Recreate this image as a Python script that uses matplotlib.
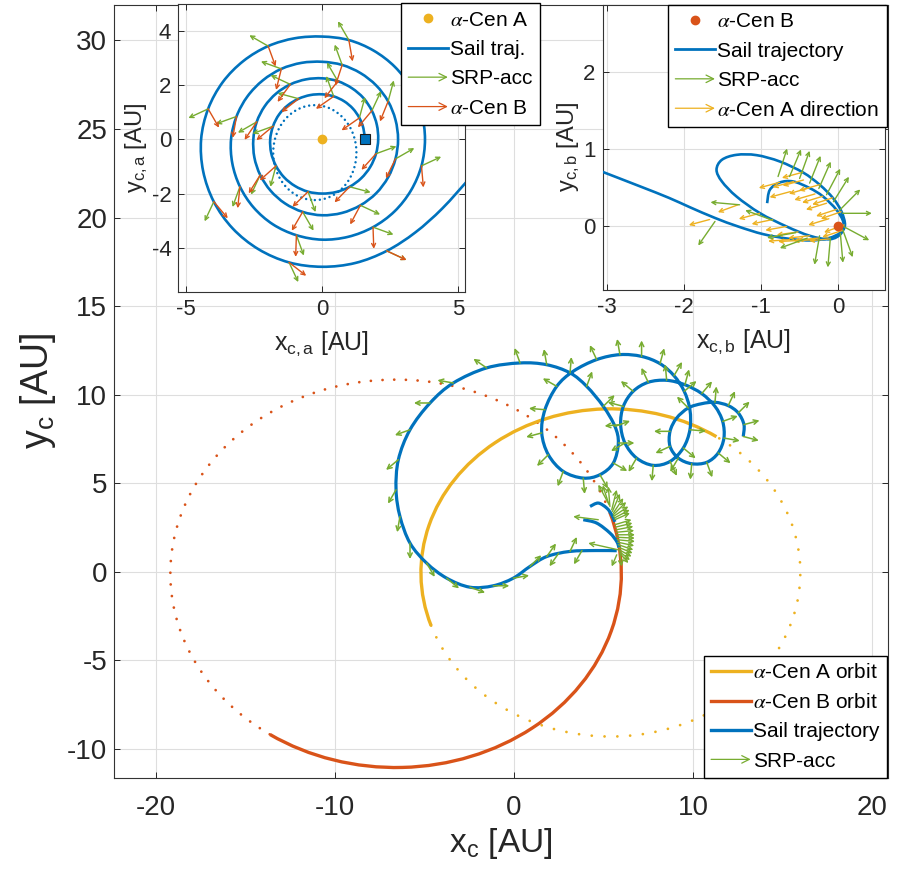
import numpy as np
import matplotlib
matplotlib.use('Agg')
import matplotlib.pyplot as plt
from matplotlib.patches import Arc, Ellipse, FancyArrowPatch, PathPatch
from matplotlib.path import Path
from matplotlib.lines import Line2D
from matplotlib.legend_handler import HandlerBase

plt.rcParams['font.family'] = ['Liberation Sans', 'DejaVu Sans']
plt.rcParams['mathtext.fontset'] = 'stix'
plt.rcParams['axes.unicode_minus'] = False

C_BLUE = '#0072BD'
C_RED = '#D95319'
C_ORANGE = '#EDB120'
C_GREEN = '#77AC30'
C_TXT = '#262626'

# ---------------- main plot data (barycentric frame, AU) ----------------
# star orbits: centre, semi axes, start/end of the flown part (deg)
orbA_c, orbA_a, orbA_b, orbA_t = (5.4, -0.05), 10.6, 9.25, (52.4, 196.6)
orbB_c, orbB_a, orbB_b, orbB_t = (-6.6, -0.1), 12.6, 10.95, (-127.7, 16.1)

sail_x = [12.81, 12.85, 12.53, 11.97, 11.23, 10.49, 9.74, 9.09, 8.72, 8.72, 9.18, 9.93,
          10.77, 11.41, 11.73, 11.66, 11.23, 10.49, 9.55, 8.53, 7.50, 6.66, 6.11, 5.96,
          6.20, 6.85, 7.78, 8.72, 9.46, 9.83, 9.83, 9.51, 8.94, 8.16, 7.13, 5.92, 4.62,
          3.31, 2.39, 1.73, 1.55, 1.92, 2.75, 3.87, 4.80, 5.55, 5.83, 5.64, 4.99, 4.06,
          3.13, 1.83, 0.34, -1.53, -3.39, -4.69, -5.81, -6.46, -6.59, -6.37, -5.81, -4.88,
          -3.76, -2.46, -1.16, -0.04, 0.89, 1.83, 3.13, 4.62, 5.74]
sail_y = [7.64, 8.31, 8.97, 9.38, 9.57, 9.49, 9.25, 8.68, 7.93, 7.08, 6.42, 6.10,
          6.18, 6.71, 7.55, 8.49, 9.34, 10.06, 10.56, 10.81, 10.70, 10.19, 9.34, 8.31,
          7.27, 6.42, 6.01, 6.23, 6.99, 8.02, 9.15, 10.19, 11.07, 11.75, 12.16, 12.26, 11.98,
          11.32, 10.47, 9.15, 7.84, 6.61, 5.67, 5.29, 5.48, 6.14, 7.27, 8.21, 9.34, 10.47,
          11.23, 11.69, 11.79, 11.51, 10.66, 9.53, 8.02, 6.33, 4.63, 3.12, 1.62, 0.49,
          -0.36, -0.87, -0.79, -0.36, 0.30, 0.86, 1.15, 1.20, 1.19]
# short arcs around alpha-Cen B at the end of the transfer
arcB1_x = [4.25, 4.71, 5.18, 5.46, 5.64]
arcB1_y = [3.69, 3.88, 3.60, 3.22, 2.82]
arcB2_x = [3.87, 4.62, 5.36, 5.74, 5.87]
arcB2_y = [2.94, 2.75, 2.19, 1.71, 1.36]

# SRP acceleration arrows along the trajectory (base, direction in deg)
srp_x = [12.81, 12.85, 12.53, 11.97, 11.23, 9.74, 8.72, 8.72, 9.18, 9.93, 10.77, 11.41, 11.73, 11.66,
         10.49, 9.55, 8.53, 7.50, 6.66, 6.11, 5.96, 6.20, 6.85, 7.78, 8.72, 9.46, 9.83,
         9.51, 8.94, 8.16, 7.13, 5.92, 4.62,
         2.39, 1.73, 1.55, 1.92, 2.75, 3.87, 4.80, 5.55, 5.83, 5.64, 4.99, 4.06, 3.13, 1.83,
         0.34, -1.53, -3.39, -4.69, -5.81, -6.46, -6.59, -6.37, -5.81, -4.88, -3.76, -2.46,
         -1.16, -0.04, 0.89, 1.83, 3.13, 2.50, 3.80]
srp_y = [7.64, 8.31, 8.97, 9.38, 9.57, 9.25, 7.93, 7.08, 6.42, 6.10, 6.18, 6.71, 7.55, 8.49,
         10.06, 10.56, 10.81, 10.70, 10.19, 9.34, 8.31, 7.27, 6.42, 6.01, 6.23, 6.99, 8.02,
         10.19, 11.07, 11.75, 12.16, 12.26, 11.98,
         10.47, 9.15, 7.84, 6.61, 5.67, 5.29, 5.48, 6.14, 7.27, 8.21, 9.34, 10.47, 11.23, 11.69,
         11.79, 11.51, 10.66, 9.53, 8.02, 6.33, 4.63, 3.12, 1.62, 0.49, -0.36, -0.87,
         -0.79, -0.36, 0.30, 0.86, 1.15, 1.05, 1.20]
srp_ang = [-15, 15, 45, 65, 85, 135, 180, 205, 240, 265, 290, 320, 350, 20,
           50, 75, 95, 115, 140, 165, 185, 210, 240, 265, 295, 320, 355,
           40, 60, 75, 90, 100, 115,
           150, 175, 195, 225, 250, 275, 300, 330, 0, 20, 45, 70, 85, 100,
           110, 145, 170, 180, 200, 220, 240, 260, 270, 300, 320, 340,
           0, 10, 45, 55, 65, 235, 240]
# fan of SRP arrows near alpha-Cen B (base, dx, dy)
fan_x = [5.27, 5.31, 5.36, 5.46, 5.50, 5.55, 5.55, 5.55, 5.60, 5.64, 5.64, 5.67, 5.70, 5.72,
         5.74, 5.75, 5.77, 5.80, 5.83, 5.86, 5.88, 5.90, 5.92, 5.92, 5.74, 4.71, 5.83]
fan_y = [3.88, 3.78, 3.69, 3.50, 3.41, 3.32, 3.22, 3.12, 3.03, 2.94, 2.66, 2.52, 2.37, 2.23,
         2.09, 1.95, 1.81, 1.67, 1.53, 1.38, 1.24, 1.14, 1.05, 0.96, 0.96, 2.94, 1.24]
fan_dx = [-0.56, -0.35, -0.09, 0.28, 0.42, 0.56, 0.72, 0.84, 0.86, 0.84, 0.93, 0.95, 0.97, 1.00,
          1.02, 1.00, 0.99, 0.92, 0.84, 0.77, 0.69, 0.58, 0.47, 0.10, -0.28, -1.40, -1.68]
fan_dy = [1.04, 1.10, 1.13, 1.13, 1.00, 0.84, 0.72, 0.57, 0.47, 0.38, 0.28, 0.23, 0.19, 0.10,
          0.00, -0.05, -0.10, -0.20, -0.29, -0.33, -0.38, -0.48, -0.56, -0.66, -0.66, 0.18, 0.38]

# ---------------- inset A (frame centred on alpha-Cen A) ----------------
spiral_ang = np.arange(0, 1440, 15)
spiral_r = [1.57, 1.57, 1.58, 1.60, 1.62, 1.64, 1.66, 1.69, 1.73, 1.78, 1.83, 1.87,
            1.91, 1.94, 1.96, 1.98, 1.99, 2.00, 2.00, 2.01, 2.02, 2.03, 2.04, 2.05,
            2.06, 2.08, 2.11, 2.15, 2.18, 2.22, 2.25, 2.29, 2.34, 2.39, 2.44, 2.49,
            2.53, 2.58, 2.63, 2.68, 2.73, 2.77, 2.80, 2.81, 2.81, 2.81, 2.80, 2.79,
            2.79, 2.79, 2.80, 2.81, 2.82, 2.84, 2.86, 2.92, 3.00, 3.08, 3.17, 3.26,
            3.35, 3.42, 3.49, 3.56, 3.62, 3.66, 3.70, 3.72, 3.74, 3.76, 3.77, 3.78,
            3.78, 3.78, 3.78, 3.78, 3.78, 3.79, 3.79, 3.86, 3.97, 4.09, 4.22, 4.34,
            4.45, 4.53, 4.60, 4.65, 4.68, 4.70, 4.70, 4.72, 4.75, 4.85, 5.10, 5.60]
park_c, park_w, park_h = (-0.27, -0.49), 3.06, 3.50
start_a = (1.57, 0.0)
arrA_idx = np.arange(2, 93, 3)
arrA_green = [75, 110, 165, 200, 255, 290, 345, 20, 65, 120, 155, 210, 245, 300, 335, 30,
              75, 110, 160, 200, 250, 290, 340, 25, 70, 120, 150, 205, 245, 295, 335]
arrA_red = [215, 215, 218, 220, 222, 224, 226, 228, 230, 232, 234, 236, 238, 240, 242, 244,
            248, 252, 256, 260, 264, 268, 272, 275, 276, 280, 290, 300, 310, 322, 335]

# ---------------- inset B (frame centred on alpha-Cen B) ----------------
trajB_x = [-3.10, -2.58, -2.20, -1.93, -1.60, -1.30, -0.97, -0.63, -0.35, -0.12, 0.03, 0.09,
           0.044, -0.065, -0.238, -0.455, -0.757, -1.06, -1.32, -1.51, -1.58, -1.51, -1.32,
           -1.017, -0.67, -0.368, -0.108, 0.04, 0.07, -0.021, -0.195, -0.368, -0.584, -0.757,
           -0.887, -0.922]
trajB_y = [0.72, 0.52, 0.37, 0.25, 0.11, 0.00, -0.10, -0.16, -0.18, -0.15, -0.08, 0.02,
           0.194, 0.366, 0.538, 0.697, 0.839, 0.921, 0.925, 0.861, 0.732, 0.581, 0.387,
           0.173, 0.00, -0.12, -0.165, -0.09, 0.05, 0.215, 0.387, 0.495, 0.581, 0.568,
           0.473, 0.301]
dirA_x = [-0.02, -0.20, -0.37, -0.58, -0.76, 0.04, -0.07, -0.24, -0.46, 0.08, 0.06, -0.10, -0.25, -0.37,
          -0.52, -0.67, -0.85, -1.02, -0.30, -0.50, -0.63, -1.30, -1.67, -0.15, -0.30, -0.45, -0.12, -0.62]
dirA_y = [0.22, 0.39, 0.50, 0.58, 0.57, 0.19, 0.37, 0.54, 0.70, 0.02, -0.05, -0.16, -0.15, -0.12,
          -0.07, 0.00, 0.09, 0.17, -0.17, -0.18, -0.17, 0.28, 0.09, 0.30, 0.42, 0.60, 0.10, 0.45]
dirA_ang = [198, 197, 196, 195, 195, 199, 198, 196, 195, 200, 198, 185, 185, 186,
            188, 190, 192, 195, 183, 183, 184, 200, 195, 197, 196, 195, 197, 195]
srpB_x = [-0.78, -0.63, -0.50, -0.37, -0.25, -0.15, -0.06, 0.02, 0.06, 0.07, 0.06, 0.03, -0.10, -0.24,
          -1.28, -1.60, -0.40, -0.85, -0.55]
srpB_y = [0.645, 0.645, 0.62, 0.56, 0.49, 0.41, 0.32, 0.21, 0.17, 0.00, -0.04, -0.09, -0.15, -0.12,
          0.28, 0.065, -0.15, 0.08, -0.08]
srpB_ang = [72, 67, 70, 68, 66, 62, 58, 45, 0, -28, -70, -85, -95, -100, 175, 235, 200, 160, 190]


def smooth_line(ax, x, y, color, lw, z=3):
    # draw a smooth curve through the read points (Catmull-Rom as cubic Bezier)
    p = np.column_stack([x, y])
    n = len(p)
    verts, codes = [p[0]], [Path.MOVETO]
    for i in range(n - 1):
        p0 = p[i - 1] if i > 0 else p[i]
        p3 = p[i + 2] if i + 2 < n else p[i + 1]
        verts += [p[i] + (p[i + 1] - p0) / 6, p[i + 1] - (p3 - p[i]) / 6, p[i + 1]]
        codes += [Path.CURVE4] * 3
    ax.add_patch(PathPatch(Path(verts, codes), facecolor='none', edgecolor=color, lw=lw,
                           capstyle='butt', joinstyle='round', zorder=z))


def draw_arrows(ax, x, y, dx, dy, color, lw=1.1, ms=8, z=4):
    for x0, y0, u, v in zip(x, y, dx, dy):
        ax.add_patch(FancyArrowPatch((x0, y0), (x0 + u, y0 + v), arrowstyle='->',
                                     mutation_scale=ms, color=color, lw=lw,
                                     shrinkA=0, shrinkB=0, zorder=z))


def polar_arrows(ax, x, y, ang, length, color, **kw):
    a = np.radians(ang)
    draw_arrows(ax, x, y, length * np.cos(a), length * np.sin(a), color, **kw)


class ArrowHandle:
    def __init__(self, color):
        self.color = color


class HandlerArrow(HandlerBase):
    def create_artists(self, legend, orig_handle, xdescent, ydescent, width, height, fontsize, trans):
        y = 0.5 * height - ydescent
        a = FancyArrowPatch((-xdescent, y), (width - xdescent, y), arrowstyle='->',
                            mutation_scale=fontsize * 0.9, color=orig_handle.color, lw=0.9,
                            shrinkA=0, shrinkB=0)
        a.set_transform(trans)
        return [a]


def style_axes(ax, size):
    ax.grid(True, color='#dedede', lw=0.8)
    ax.set_axisbelow(True)
    ax.tick_params(direction='in', length=4, width=0.7, top=True, right=True,
                   labelsize=size, colors=C_TXT, pad=5)
    for s in ax.spines.values():
        s.set_color('#333333')
        s.set_linewidth(0.8)


leg_kw = dict(fontsize=15, handlelength=1.9, handletextpad=0.12, borderpad=0.35,
              labelspacing=0.5, fancybox=False, framealpha=1, edgecolor='black',
              borderaxespad=0, handler_map={ArrowHandle: HandlerArrow()})

fig = plt.figure(figsize=(8.99, 8.75), dpi=100)

# ---------------- main axes ----------------
ax = fig.add_axes([0.1268, 0.1109, 0.861, 0.8834])
style_axes(ax, 20)
ax.tick_params(axis='x', pad=12)
ax.set_xlim(-22.35, 20.9)
ax.set_ylim(-11.64, 32.0)
ax.set_xticks([-20, -10, 0, 10, 20])
ax.set_yticks(np.arange(-10, 31, 5))
ax.add_patch(Arc(orbA_c, 2 * orbA_a, 2 * orbA_b, theta1=orbA_t[1], theta2=orbA_t[0] + 360,
                 color=C_ORANGE, lw=2.0, linestyle=(0, (0.01, 4.6)), capstyle='round', zorder=2))
ax.add_patch(Arc(orbB_c, 2 * orbB_a, 2 * orbB_b, theta1=orbB_t[1], theta2=orbB_t[0] + 360,
                 color=C_RED, lw=2.0, linestyle=(0, (0.01, 4.2)), capstyle='round', zorder=2))
ax.add_patch(Arc(orbA_c, 2 * orbA_a, 2 * orbA_b, theta1=orbA_t[0], theta2=orbA_t[1],
                 color=C_ORANGE, lw=2.4, zorder=2))
ax.add_patch(Arc(orbB_c, 2 * orbB_a, 2 * orbB_b, theta1=orbB_t[0], theta2=orbB_t[1],
                 color=C_RED, lw=2.4, zorder=2))
smooth_line(ax, sail_x, sail_y, C_BLUE, 2.3)
smooth_line(ax, arcB1_x, arcB1_y, C_BLUE, 2.3)
smooth_line(ax, arcB2_x, arcB2_y, C_BLUE, 2.3)
polar_arrows(ax, srp_x, srp_y, srp_ang, 0.9, C_GREEN)
draw_arrows(ax, fan_x, fan_y, fan_dx, fan_dy, C_GREEN, lw=1.0)
ax.set_xlabel(r'$\mathregular{x_c}$ [AU]', fontsize=24, color=C_TXT, labelpad=4)
ax.set_ylabel(r'$\mathregular{y_c}$ [AU]', fontsize=27, color=C_TXT, labelpad=6)
hm = [Line2D([], [], color=C_ORANGE, lw=2.4), Line2D([], [], color=C_RED, lw=2.4),
      Line2D([], [], color=C_BLUE, lw=2.4), ArrowHandle(C_GREEN)]
ax.legend(hm, [r'$\alpha$-Cen A orbit', r'$\alpha$-Cen B orbit', 'Sail trajectory', 'SRP-acc'],
          loc='lower right', bbox_to_anchor=(0.9866, 0.1109), bbox_transform=fig.transFigure, **leg_kw)

# ---------------- inset A ----------------
axa = fig.add_axes([0.1983, 0.6666, 0.3189, 0.3288])
style_axes(axa, 16)
axa.set_xlim(-5.29, 5.25)
axa.set_ylim(-5.62, 4.99)
axa.set_xticks([-5, 0, 5])
axa.set_yticks([-4, -2, 0, 2, 4])
th = np.radians(spiral_ang)
sx = np.array(spiral_r) * np.cos(th)
sy = np.array(spiral_r) * np.sin(th)
axa.add_patch(Ellipse(park_c, park_w, park_h, fill=False, color=C_BLUE, lw=1.8,
                      linestyle=(0, (0.01, 2.0)), capstyle='round', zorder=2))
smooth_line(axa, sx, sy, C_BLUE, 1.9)
polar_arrows(axa, sx[arrA_idx], sy[arrA_idx], arrA_green, 0.8, C_GREEN, lw=1.0, ms=7)
polar_arrows(axa, sx[arrA_idx], sy[arrA_idx], arrA_red, 0.8, C_RED, lw=1.0, ms=7)
axa.plot([0], [0], 'o', color=C_ORANGE, ms=6, zorder=5)
axa.plot([start_a[0]], [start_a[1]], 's', color=C_BLUE, mec='#1a1a1a', mew=0.8, ms=7, zorder=5)
axa.set_xlabel(r'$\mathregular{x_{c,a}}$ [AU]', fontsize=18, color=C_TXT, labelpad=7)
axa.set_ylabel(r'$\mathregular{y_{c,a}}$ [AU]', fontsize=17, color=C_TXT, labelpad=1)
ha = [Line2D([], [], marker='o', ls='none', color=C_ORANGE, ms=6),
      Line2D([], [], color=C_BLUE, lw=2.0), ArrowHandle(C_GREEN), ArrowHandle(C_RED)]
axa.legend(ha, [r'$\alpha$-Cen A', 'Sail traj.', 'SRP-acc', r'$\alpha$-Cen B'],
           loc='upper right', bbox_to_anchor=(0.6007, 0.9962), bbox_transform=fig.transFigure, **leg_kw)

# ---------------- inset B ----------------
axb = fig.add_axes([0.6704, 0.6686, 0.314, 0.3257])
style_axes(axb, 16)
axb.set_xlim(-3.06, 0.61)
axb.set_ylim(-0.82, 2.86)
axb.set_xticks([-3, -2, -1, 0])
axb.set_yticks([0, 1, 2])
smooth_line(axb, trajB_x, trajB_y, C_BLUE, 1.9)
polar_arrows(axb, dirA_x, dirA_y, dirA_ang, 0.28, C_ORANGE, lw=1.0, ms=7)
polar_arrows(axb, srpB_x, srpB_y, srpB_ang, 0.38, C_GREEN, lw=1.0, ms=7)
axb.plot([0], [0], 'o', color=C_RED, ms=6, zorder=5)
axb.set_xlabel(r'$\mathregular{x_{c,b}}$ [AU]', fontsize=18, color=C_TXT, labelpad=7)
axb.set_ylabel(r'$\mathregular{y_{c,b}}$ [AU]', fontsize=17, color=C_TXT, labelpad=1)
hb = [Line2D([], [], marker='o', ls='none', color=C_RED, ms=6),
      Line2D([], [], color=C_BLUE, lw=2.0), ArrowHandle(C_GREEN), ArrowHandle(C_ORANGE)]
axb.legend(hb, [r'$\alpha$-Cen B', 'Sail trajectory', 'SRP-acc', r'$\alpha$-Cen A direction'],
           loc='upper right', bbox_to_anchor=(0.9863, 0.9943), bbox_transform=fig.transFigure, **leg_kw)

fig.savefig('out.png', dpi=100)
